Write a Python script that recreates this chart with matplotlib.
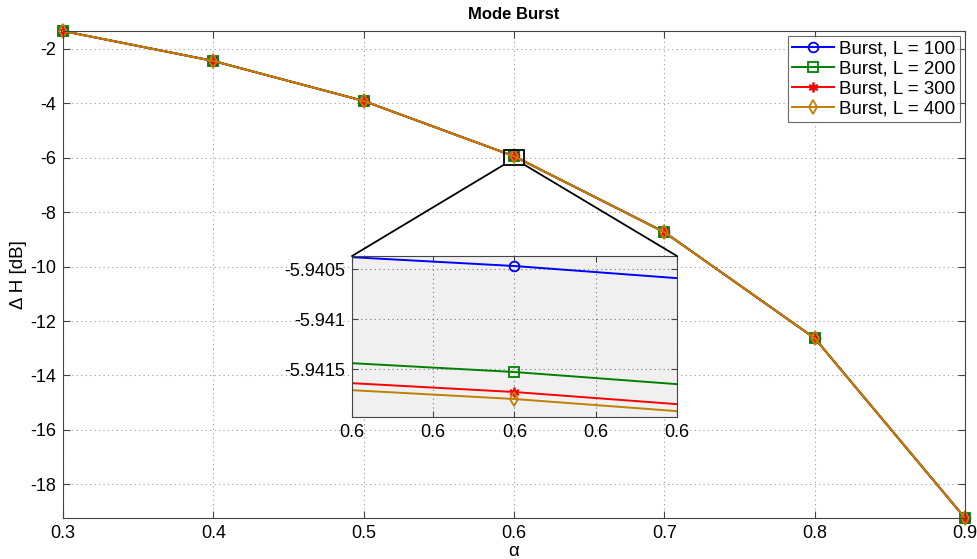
import numpy as np
import matplotlib
matplotlib.use('Agg')
import matplotlib.pyplot as plt
from matplotlib.patches import Rectangle, ConnectionPatch
from matplotlib.ticker import FixedLocator, FuncFormatter

plt.rcParams['font.family'] = ['Liberation Sans', 'DejaVu Sans']
plt.rcParams['axes.unicode_minus'] = False

alpha = [0.3, 0.4, 0.5, 0.6, 0.7, 0.8, 0.9]

# dH [dB] per burst length (curves overlap except at the zoomed point)
dh_100 = [-1.34, -2.44, -3.91, -5.94047, -8.73, -12.63, -19.24]
dh_200 = [-1.34, -2.44, -3.91, -5.94153, -8.73, -12.63, -19.24]
dh_300 = [-1.34, -2.44, -3.91, -5.94173, -8.73, -12.63, -19.24]
dh_400 = [-1.34, -2.44, -3.91, -5.94180, -8.73, -12.63, -19.24]

labels = ['Burst, L = 100', 'Burst, L = 200', 'Burst, L = 300', 'Burst, L = 400']
colors = ['#0000ff', '#008000', '#ff0000', '#bf8000']
markers = ['o', 's', (6, 2, 0), 'd']
series = [dh_100, dh_200, dh_300, dh_400]

fig = plt.figure(figsize=(9.78, 5.59), dpi=100)
ax = fig.add_axes([0.0644, 0.0733, 0.9223, 0.8712])

for y, c, m, lab in zip(series, colors, markers, labels):
    ax.plot(alpha, y, color=c, marker=m, markerfacecolor='none',
            markersize=7, linewidth=1.4, markeredgewidth=1.3, label=lab,
            clip_on=False)

ax.set_xlim(0.3, 0.9)
ax.set_ylim(-19.24, -1.34)
ax.set_yticks(np.arange(-18, -1, 2))
ax.set_xticks(alpha)
ax.grid(True, linestyle=(0, (1, 3)), color='#999999', linewidth=0.8)
ax.tick_params(direction='in', top=True, right=True, labelsize=13, length=5,
               color='#444444', pad=5)
for s in ax.spines.values():
    s.set_color('#444444')
ax.set_title('Mode Burst', fontsize=12, fontweight='bold', pad=9)
ax.set_xlabel('α', fontsize=13.5, labelpad=1)
ax.set_ylabel('Δ H [dB]', fontsize=13.5, labelpad=2)

leg = ax.legend(loc='upper right', fontsize=13.5, frameon=True, fancybox=False,
                edgecolor='#444444', borderaxespad=0.25, handlelength=2.2,
                handletextpad=0.3, labelspacing=0.15, borderpad=0.25)
leg.get_frame().set_linewidth(0.8)

# zoom box around alpha = 0.6
rect = Rectangle((0.5933, -6.255), 0.0136, 0.54, fill=False, edgecolor='black',
                 linewidth=1.3, zorder=5)
ax.add_patch(rect)

ins = fig.add_axes([0.3599, 0.254, 0.3323, 0.288])
ins.set_facecolor('#f0f0f0')
for y, c, m in zip(series, colors, markers):
    ins.plot(alpha, y, color=c, marker=m, markerfacecolor='none',
             markersize=7, linewidth=1.4, markeredgewidth=1.3)
h = 4.35e-6
ins.set_xlim(0.6 - h, 0.6 + h)
ins.set_ylim(-5.94198, -5.94037)
ins.xaxis.set_major_locator(FixedLocator(np.linspace(0.6 - h, 0.6 + h, 5)))
ins.xaxis.set_major_formatter(FuncFormatter(lambda v, p: '%.1f' % v))
ins.yaxis.set_major_locator(FixedLocator([-5.9415, -5.941, -5.9405]))
ins.yaxis.set_major_formatter(FuncFormatter(lambda v, p: '%g' % round(v, 4)))
ins.grid(True, linestyle=(0, (1, 3)), color='#777777', linewidth=0.8)
ins.tick_params(direction='in', top=True, right=True, labelsize=13, length=4,
                color='#444444', pad=5)
for s in ins.spines.values():
    s.set_color('#444444')

for xa, xb in [(0.5933, 0.0), (0.6069, 1.0)]:
    con = ConnectionPatch(xyA=(xa, -6.255), coordsA=ax.transData,
                          xyB=(xb, 1.0), coordsB=ins.transAxes,
                          color='black', linewidth=1.3)
    fig.add_artist(con)

fig.savefig('out.png', dpi=100)
